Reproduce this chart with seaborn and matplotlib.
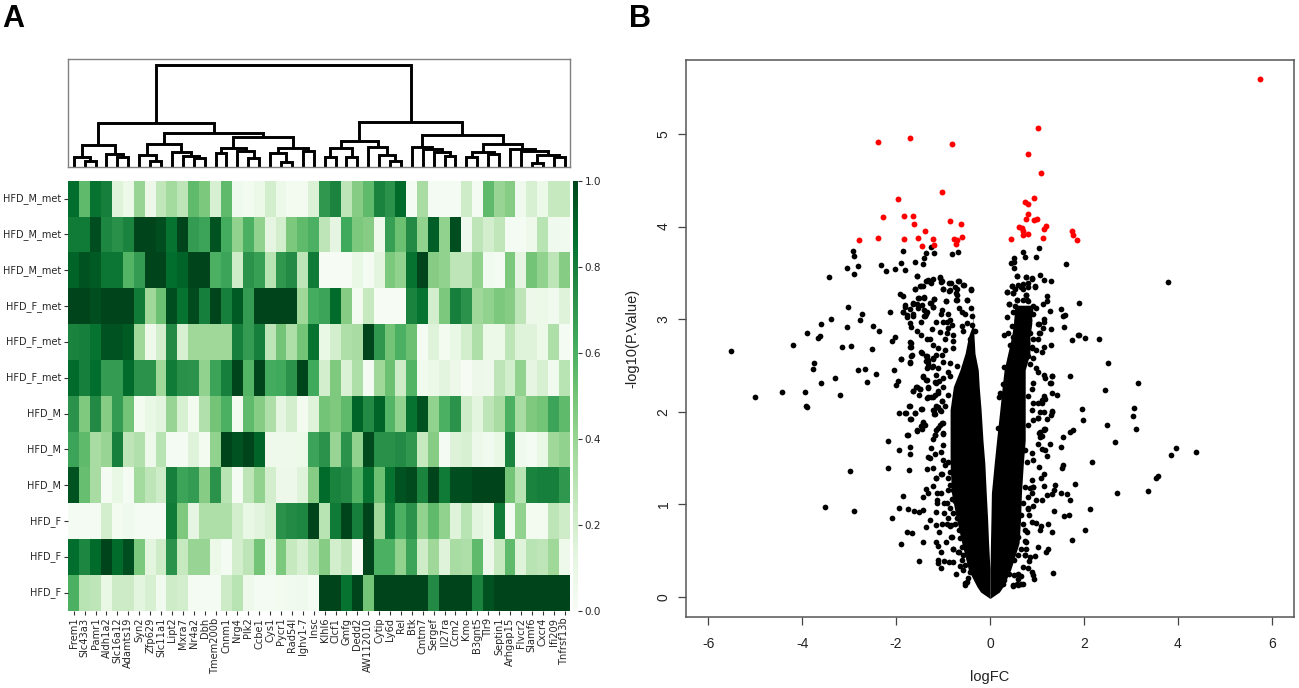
import numpy as np
import pandas as pd
import matplotlib
matplotlib.use("Agg")
import matplotlib.pyplot as plt
import seaborn as sns

genes = ["Frem1","Slc43a3","Pamr1","Aldh1a2","Slc16a12","Adamts19","Syn2","Zfp629","Slc11a1","Lipt2","Mxra7","Nr4a2",
         "Dbh","Tmem200b","Cnnm1","Nrg4","Plk2","Ccbe1","Cys1","Pycr1","Rad54l","Ighv1-7","Insc","Klhl6","Clcf1","Gmfg",
         "Dedd2","AW112010","Cytip","Ly6d","Rel","Btk","Cmtm7","Sergef","Il27ra","Ccm2","Kmo","B3gnt5","Tlr9","Septin1",
         "Arhgap15","Flvcr2","Slamf6","Cxcr4","Ifi209","Tnfrsf13b"]
samples = ["HFD_M_met"]*3 + ["HFD_F_met"]*3 + ["HFD_M"]*3 + ["HFD_F"]*3

row0 = [.87,.55,.85,.8,.15,.08,.4,.07,.27,.37,.28,.55,.48,.18,.55,.05,.03,.08,.2,.08,.03,.03,.17,.7,.78,.28,.45,.55,.78,.72,.88,.02,.35,.02,.02,.02,.22,.02,.55,.4,.45,.05,.18,.08,.25,.25]
row1 = [.82,.82,.97,.77,.73,.78,1,1,.97,.85,1,.68,.65,.95,.62,.42,.6,.42,.12,.2,.48,.55,.6,.28,.12,.63,.48,.45,.06,.67,.52,.75,.42,.92,.42,.97,.05,.28,.2,.27,.02,.02,.06,.3,.05,.04]
row2 = [.9,.95,.93,.83,.83,.58,.68,1,1,.87,.9,1,1,.6,.65,.22,.72,.67,.3,.7,.75,.28,.82,.01,.01,.01,.1,.02,.13,.48,.42,.85,1,.45,.42,.28,.28,.42,.04,.02,.48,.12,.5,.42,.28,.45]
row3 = [1,1,.97,1,1,1,.82,.38,.52,.97,.85,.98,.8,1,.8,.93,.68,1,1,1,1,.38,.62,.65,.88,.45,.03,.25,.01,.01,.01,.78,.85,.2,.48,.8,.72,.38,.42,.48,.45,.28,.07,.08,.04,.15]
row4 = [.78,.8,.85,.95,.95,.93,.38,.06,.2,.75,.18,.38,.38,.38,.38,.8,.68,.8,.28,.5,.33,.5,.85,.1,.2,.33,.35,1,.7,.5,.6,.52,.02,.15,.03,.1,.2,.33,.08,.08,.28,.15,.15,.08,.33,.02]
row5 = [.88,.8,.87,.68,.68,.88,.72,.72,.38,.82,.73,.72,.42,.65,.8,1,.58,1,.62,.63,.72,1,.63,.2,.47,.17,.33,.02,.38,.52,.22,.58,.04,.08,.13,.07,.01,.07,.06,.28,.2,.42,.12,.18,.04,.3]
row6 = [.72,.47,.75,.45,.68,.5,.03,.1,.13,.4,.18,.03,.32,.5,.6,.03,.55,.45,.33,.12,.2,.03,.15,.5,.47,.55,.9,.75,.9,.58,.42,.85,.95,.42,.6,.72,.22,.13,.28,.35,.6,.35,.47,.5,.65,.55]
row7 = [.65,.55,.35,.4,.8,.28,.32,.06,.3,.02,.02,.15,.03,.42,1,.95,1,.9,.06,.06,.06,.08,.65,.72,.4,.72,.42,.98,.73,.73,.75,.7,.25,.45,.02,.16,.18,.07,.04,.1,.78,.05,.02,.1,.38,.42]
row8 = [.95,.53,.35,.02,.1,.02,.37,.28,.22,.8,.65,.68,.45,.72,.3,.02,.28,.42,.2,.07,.07,.15,.45,.88,.78,.75,.58,.85,.52,.85,.95,.98,.78,1,.82,.97,.97,1,1,1,.5,.3,.78,.8,.8,.7]
row9 = [.02,.02,.02,.2,.03,.05,.02,.02,.02,.82,.47,.12,.33,.33,.33,.2,.1,.14,.18,.72,.75,.77,1,.3,.82,1,.8,1,.38,.82,.6,.72,.42,.55,.42,.15,.3,.13,.08,.82,.02,.42,.03,.03,.28,.22]
row10 = [.87,.77,.88,1,.88,.97,.48,.13,.22,.72,.25,.4,.4,.08,.02,.2,.28,.5,.1,.48,.25,.18,.3,.45,.2,.27,.01,1,.6,.6,.42,.65,.22,.38,.15,.35,.33,.55,.07,.25,.55,.15,.3,.28,.38,.06]
row11 = [.6,.3,.28,.1,.23,.23,.13,.18,.04,.22,.2,.02,.02,.02,.23,.3,.06,.02,.02,.03,.04,.05,.02,1,1,.85,1,.5,1,1,1,1,1,.75,1,1,1,.78,.95,1,1,1,1,1,1,1]
rows = [row0,row1,row2,row3,row4,row5,row6,row7,row8,row9,row10,row11]

# dendrogram: (height, left, right); integers are column numbers
g_a = (0.66, (0.32, 0, (0.19, 1, 2)), (0.39, 3, (0.30, 4, 5)))
g_b = (0.69, (0.36, 6, (0.19, 7, 8)), (0.47, 9, (0.35, 10, (0.27, 11, 12))))
g_c = (0.57, (0.44, 13, 14), (0.49, 15, (0.29, 16, 17)))
g_d = (0.57, (0.42, 18, (0.17, 19, 20)), (0.49, 21, 22))
g_e = (0.80, (0.57, (0.30, 23, 24), (0.30, 25, 26)), (0.60, 27, (0.37, 28, (0.19, 29, 30))))
g_f = (0.60, 31, (0.55, 32, (0.47, 33, (0.35, 34, 35))))
g_g = (0.47, (0.30, 36, 37), (0.40, 38, 39))
g_h = (0.55, 40, (0.49, 41, (0.37, (0.14, 42, 43), (0.30, 44, 45))))
tree = (3.08, (1.33, g_a, (1.04, g_b, (0.90, g_c, g_d))),
               (1.37, g_e, (0.97, g_f, (0.69, g_g, g_h))))
dendro_top = 3.24

red_points = [(-2.38,4.91),(-1.71,4.96),(-.80,4.89),(-1.02,4.37),(-1.95,4.30),(-2.28,4.10),(-1.84,4.11),(-1.63,4.11),(-1.62,4.03),
 (-.85,4.06),(-.61,4.03),(-1.38,3.95),(-2.78,3.85),(-2.39,3.88),(-1.83,3.87),(-1.53,3.88),(-1.21,3.87),(-1.45,3.79),(-1.19,3.80),
 (-.77,3.87),(-.71,3.85),(-.72,3.81),(-.59,3.89),(5.75,5.59),(1.02,5.06),(.80,4.78),(1.09,4.58),(.94,4.31),(.74,4.26),(.80,4.24),
 (.81,4.14),(.77,4.08),(.93,4.07),(1.00,4.08),(.62,3.99),(.69,3.98),(1.20,4.01),(1.15,3.97),(.70,3.95),(.71,3.91),(.81,3.92),
 (1.12,3.88),(.45,3.87),(1.75,3.95),(1.77,3.91),(1.85,3.86)]

upper_left = [(-2.91,3.74),(-2.89,3.68),(-2.82,3.57),(-3.04,3.55),(-2.89,3.49),(-3.43,3.46),(-2.33,3.58),(-2.21,3.52),(-2.02,3.54),
 (-1.90,3.61),(-1.80,3.53),(-1.85,3.74),(-1.60,3.62),(-1.41,3.66),(-1.42,3.59),(-1.37,3.71),(-1.26,3.78),(-1.20,3.71),(-.82,3.70),
 (-.68,3.73),(-1.56,3.47),(-1.06,3.44),(-1.04,3.40),(-1.37,3.41),(-1.31,3.42),(-1.25,3.39),(-1.48,3.36),(-1.60,3.33),(-1.00,3.33),
 (-.87,3.30),(-.83,3.39),(-.68,3.41),(-.56,3.37),(-.41,3.31),(-.74,3.35),(-.72,3.28),(-1.92,3.27),(-1.86,3.25),(-1.51,3.23),(-1.40,3.23),
 (-1.19,3.22),(-1.28,3.17),(-.94,3.20),(-.48,3.21),(-1.81,3.13),(-1.63,3.16),(-1.45,3.15),(-1.21,3.13),(-.71,3.21),(-1.85,3.08),
 (-1.76,3.04),(-1.63,3.06),(-1.35,3.08),(-1.38,3.03),(-2.12,3.08),(-3.02,3.13),(-2.73,3.06),(-2.76,2.99),(-3.39,3.00),(-3.60,2.95),
 (-3.05,2.91),(-2.50,2.93),(-2.36,2.87),(-3.89,2.85),(-3.66,2.80),(-3.63,2.82),(-2.03,2.81),(-2.09,2.76),(-4.19,2.72),(-5.52,2.66),
 (-1.69,2.74),(-1.69,2.70),(-3.15,2.70),(-2.51,2.68),(-2.95,2.71)]

lower_left = [(-3.75,2.52),(-3.76,2.46),(-2.81,2.45),(-2.66,2.46),(-2.43,2.41),(-2.61,2.32),(-3.30,2.36),(-3.61,2.31),(-3.94,2.21),
 (-4.42,2.21),(-5.00,2.16),(-3.19,2.18),(-3.90,2.05),(-3.92,2.06),(-2.04,2.45),(-1.90,2.57),(-1.69,2.60),(-1.71,2.53),(-1.45,2.63),
 (-1.36,2.60),(-1.37,2.55),(-1.31,2.53),(-1.22,2.57),(-1.14,2.61),(-1.34,2.47),(-1.23,2.48),(-1.95,2.33),(-2.00,2.29),(-1.42,2.37),
 (-1.36,2.34),(-1.17,2.32),(-1.09,2.33),(-1.31,2.26),(-1.57,2.27),(-1.50,2.24),(-1.51,2.18),(-1.63,2.22),(-1.34,2.15),(-1.26,2.16),
 (-1.17,2.18),(-1.10,2.22),(-1.03,2.11),(-1.10,2.05),(-1.19,2.02),(-1.04,2.01),(-1.19,1.97),(-1.72,2.06),(-1.93,1.99),(-1.79,1.98),
 (-1.60,1.98),(-1.45,2.03),(-1.69,1.92),(-1.42,1.89),(-1.38,1.86),(-1.45,1.81),(-1.55,1.79),(-1.75,1.75),(-1.00,1.88),(-1.07,1.85),
 (-1.14,1.80),(-1.17,1.75),(-1.21,1.70),(-1.00,1.76),(-2.17,1.68),(-1.94,1.59),(-1.71,1.62),(-1.71,1.54),(-1.26,1.61),(-1.00,1.64),
 (-1.05,1.56),(-1.18,1.54),(-1.32,1.51),(-1.27,1.50),(-2.17,1.39),(-1.73,1.37),(-2.98,1.36),(-1.34,1.38),(-1.21,1.39),(-1.03,1.33),
 (-1.14,1.28),(-1.22,1.20),(-1.37,1.16),(-1.31,1.12),(-1.43,1.08),(-1.86,1.09),(-1.12,1.12),(-1.04,1.12),(-1.12,1.05),(-1.12,1.01),
 (-.97,1.01),(-3.51,.97),(-2.90,.93),(-1.93,.96),(-1.75,.95),(-1.61,.93),(-1.52,.91),(-1.42,.94),(-2.09,.85),(-1.27,.83),(-1.14,.92),
 (-.98,.90),(-1.36,.75),(-1.14,.77),(-1.02,.79),(-.92,.78),(-.84,.77),(-1.08,.70),(-1.77,.70),(-1.67,.69),(-1.90,.57),(-1.43,.59),
 (-1.14,.59),(-1.11,.55),(-.94,.59),(-.83,.64),(-.78,.51),(-1.05,.48),(-.68,.48),(-1.51,.39),(-1.11,.40),(-1.10,.36),(-.98,.39),
 (-.88,.38),(-.78,.38),(-1.05,.31),(-.60,.40),(-.72,.24),(-.53,.13),(-.50,.16)]

near_core_left = [(-1.56,3.47),(-1.07,3.45),(-.67,3.41),(-.87,3.39),(-.57,3.37),(-1.03,3.41),(-1.21,3.43),(-1.31,3.41),(-1.42,3.36),(-1.49,3.36),
 (-1.60,3.33),(-1.00,3.32),(-.85,3.31),(-.71,3.32),(-.41,3.32),(-.71,3.26),(-.72,3.21),(-.50,3.21),(-.94,3.20),(-1.19,3.22),(-1.26,3.17),
 (-1.41,3.24),(-1.53,3.23),(-1.63,3.17),(-1.56,3.16),(-1.81,3.15),(-1.86,3.08),(-1.70,3.11),(-1.53,3.12),(-1.41,3.10),(-1.36,3.06),(-1.21,3.13),
 (-1.03,3.10),(-1.05,3.06),(-.89,3.06),(-.67,3.12),(-.60,3.08),(-.41,3.12),(-.53,3.05),(-.39,3.03),(-1.77,3.02),(-1.65,3.03),(-1.48,2.97),
 (-1.41,3.03),(-1.14,2.97),(-1.00,2.97),(-.92,2.97),(-.85,2.99),(-.82,2.94),(-.89,2.90),(-.60,2.92),(-.50,2.96),(-.39,2.94),(-1.70,2.96),
 (-1.68,2.91),(-1.56,2.87),(-1.46,2.83),(-1.35,2.79),(-1.28,2.78),(-1.24,2.89),(-1.06,2.86),(-.92,2.85),(-.96,2.78),(-.78,2.83),(-.57,2.87),
 (-.32,2.87),(-.43,2.78),(-.78,2.76),(-1.21,2.72),(-1.10,2.69),(-.96,2.67),(-.78,2.69),(-1.70,2.75),(-1.70,2.70),(-1.46,2.64),(-1.67,2.61),
 (-1.35,2.60),(-1.31,2.56),(-1.89,2.57),(-1.70,2.54),(-1.21,2.58),(-1.03,2.61),(-1.31,2.49),(-1.21,2.49),(-1.00,2.54),(-.85,2.52),(-1.10,2.47),
 (-.89,2.43),(-.71,2.49),(-1.42,2.38),(-1.35,2.34),(-1.14,2.40),(-1.00,2.36),(-.85,2.38),(-1.56,2.27),(-1.63,2.22),(-1.49,2.24),(-1.31,2.27),
 (-1.14,2.31),(-1.00,2.27),(-1.31,2.16),(-1.21,2.16),(-1.10,2.20),(-1.03,2.11),(-1.15,2.06),(-.89,2.18),(-1.70,2.06),(-1.46,2.03),(-1.81,1.98),
 (-1.60,1.98),(-1.70,1.92),(-1.21,2.02),(-1.06,2.02),(-.96,2.06),(-1.17,1.97),(-1.42,1.88),(-1.46,1.84),(-1.56,1.80),(-1.76,1.75),(-1.03,1.88),
 (-1.10,1.82),(-1.17,1.75),(-1.00,1.77),(-1.00,1.48),(-.89,1.46),(-.96,1.42),(-.85,1.35),(-1.05,1.33),(-.89,1.28),(-1.14,1.28),(-.85,1.21),
 (-.78,1.15),(-.89,1.15),(-.82,1.06),(-.92,1.01),(-.75,1.03),(-.85,.96),(-.78,.90),(-.89,.85),(-.71,.85),(-.75,.79),(-.85,.76),(-.67,.72),
 (-.82,.65),(-.64,.63),(-.60,.54),(-.78,.52),(-.67,.48),(-.57,.45),(-.53,.34),(-.64,.33),(-.57,.29),(-.43,.27),(-.46,.20),(-.53,.15)]

upper_right = [(1.04,3.77),(.71,3.72),(.75,3.67),(.97,3.67),(.52,3.66),(.45,3.61),(.52,3.62),(.52,3.55),(1.62,3.60),(3.79,3.40),(.58,3.47),
 (.77,3.46),(.89,3.44),(1.06,3.48),(1.16,3.42),(1.29,3.41),(.46,3.36),(.67,3.35),(.82,3.39),(.96,3.35),(.36,3.29),(.48,3.28),(.76,3.26),
 (1.22,3.25),(1.21,3.19),(1.12,3.16),(1.90,3.17),(.57,3.21),(.40,3.16),(.78,3.21),(1.28,3.09),(1.51,3.11),(1.60,3.04),(1.56,3.03),
 (.36,3.02),(1.16,3.00),(1.04,2.95),(1.29,2.89),(1.57,2.91),(.30,2.83),(1.06,2.85),(1.90,2.83),(2.02,2.80),(2.32,2.79),(1.75,2.77),
 (1.29,2.72),(1.14,2.70),(.89,2.70)]

lower_right = [(1.10,2.64),(2.51,2.53),(1.70,2.38),(1.32,2.38),(1.29,2.31),(1.17,2.36),(3.15,2.31),(2.46,2.23),(1.33,2.20),(1.43,2.18),
 (1.15,2.15),(1.10,2.09),(1.17,2.14),(1.97,2.03),(1.99,1.91),(3.07,2.04),(3.05,1.95),(3.12,1.81),(2.49,1.85),(1.33,2.01),(1.29,1.96),
 (1.21,1.92),(1.14,2.00),(1.03,1.93),(1.77,1.80),(1.70,1.78),(1.55,1.73),(1.51,1.62),(1.28,1.65),(1.15,1.81),(1.06,1.78),(1.10,1.74),
 (2.66,1.67),(3.96,1.61),(3.86,1.53),(4.39,1.56),(1.03,1.65),(1.10,1.60),(1.21,1.52),(1.17,1.59),(.89,1.55),(.92,1.48),(2.17,1.45),
 (1.55,1.42),(1.53,1.39),(1.05,1.40),(3.57,1.30),(3.54,1.28),(1.14,1.33),(1.08,1.28),(1.82,1.22),(1.38,1.21),(1.14,1.20),(.92,1.19),
 (.89,1.12),(1.37,1.15),(3.37,1.14),(2.70,1.12),(1.22,1.10),(1.33,1.11),(1.51,1.12),(1.63,1.11),(1.70,1.05),(1.10,1.04),(.99,1.05),
 (2.14,.95),(1.36,.93),(.92,.98),(.82,.95),(.84,.88),(1.58,.87),(1.68,.88),(.90,.81),(.99,.80),(1.23,.79),(1.08,.76),(1.06,.72),
 (1.31,.70),(.78,.70),(2.02,.72),(1.74,.61),(.77,.59),(1.02,.54),(1.24,.51),(1.19,.48),(.77,.51),(.96,.44),(.85,.43),(.75,.45),(.84,.39),
 (.71,.32),(.82,.31),(.89,.27),(.92,.23),(.94,.19),(1.34,.26),(.51,.23),(.60,.25),(.67,.22),(.60,.19),(.70,.14),(.60,.13),(.48,.12)]

near_core_right = [(.57,3.47),(.77,3.45),(.89,3.43),(.46,3.36),(.60,3.37),(.71,3.38),(.82,3.35),(.96,3.36),(.53,3.33),(.71,3.32),(.37,3.29),(.48,3.28),
 (.77,3.26),(.57,3.21),(.71,3.21),(.82,3.20),(.41,3.16),(.53,3.14),(.92,3.14),(.85,3.10),(.99,3.12),(.50,3.08),(.64,3.05),(.78,3.05),(.92,3.06),
 (.57,2.99),(.71,2.99),(.84,2.99),(1.15,2.97),(1.03,2.95),(1.12,2.90),(.46,2.92),(.64,2.90),(.39,2.85),(.50,2.81),(.71,2.83),(.85,2.85),(1.05,2.85),
 (.92,2.78),(1.03,2.79),(1.88,2.83),(.78,2.74),(.89,2.69),(.99,2.67),(.43,2.72),(.30,2.48),(.82,2.60),(.92,2.58),(.85,2.51),(.99,2.47),(1.03,2.43),
 (1.14,2.40),(1.31,2.38),(1.28,2.31),(.27,2.30),(.92,2.31),(.89,2.24),(.21,2.20),(.82,2.17),(1.14,2.17),(1.10,2.13),(1.03,2.09),(.92,2.09),(.20,2.16),
 (.89,2.02),(1.07,2.00),(1.31,2.00),(1.03,1.93),(.92,1.91),(1.14,1.80),(1.05,1.77),(1.17,1.81),(.82,1.86),(.18,1.82),(1.07,1.73),(.75,1.59),(.78,1.46),
 (.89,1.26),(.75,1.19),(.85,1.17),(.92,1.19),(.82,1.08),(.71,1.01),(.82,.96),(.67,.88),(.71,.79),(.75,.72),(.60,.65),(.75,.60),(.65,.52),(.60,.45),
 (.75,.45),(.51,.40),(.40,.25),(.30,.18),(.28,.14),(.48,.13),(.58,.14),(.67,.14)]

# outline of the solid core
core_y      = [-.02, .05, .11, .29, .58, .83, 1.12, 1.44, 1.69, 2.02, 2.27, 2.45, 2.63, 2.81, 2.95, 3.15]
left_outer  = [0,-.20,-.28,-.46,-.60,-.71,-.82,-.85,-.85,-.85,-.78,-.64,-.53,-.46,-.36,-.36]
left_inner  = [0,0,0,0,-.03,-.05,-.08,-.11,-.15,-.19,-.23,-.25,-.32,-.34,-.35,-.36]
right_inner = [0,0,0,0,.01,.02,.03,.09,.14,.21,.26,.30,.38,.46,.50,.53]
right_outer = [0,.20,.28,.44,.62,.65,.67,.71,.75,.75,.75,.75,.85,.85,.89,.89]

W, H = 1299, 688
plt.rcParams["font.family"] = ["DejaVu Sans"]
plt.rcParams["axes.unicode_minus"] = False
fig = plt.figure(figsize=(W/100, H/100), dpi=100, facecolor="white")

def rect(l, t, r, b):
    return [l/W, 1-b/H, (r-l)/W, (b-t)/H]

# ---------- panel A ----------
ax_h = fig.add_axes(rect(68.3, 180.7, 570, 610.7))
ax_c = fig.add_axes(rect(572.5, 180.7, 577.5, 610.7))
frame = pd.DataFrame(rows, columns=genes)
sns.heatmap(frame, ax=ax_h, cbar_ax=ax_c, cmap="Greens", vmin=0, vmax=1,
            xticklabels=genes, yticklabels=samples, linewidths=0, rasterized=True)
ax_h.set_yticklabels(samples, rotation=0, fontsize=7, color="#262626")
ax_h.set_xticklabels(genes, rotation=90, fontsize=7.1, color="#262626")
ax_h.tick_params(length=3, width=0.8, pad=2, color="#333333")
ax_c.tick_params(length=3, width=0.8, labelsize=7.5, pad=2, labelcolor="#262626", color="#333333")
ax_c.set_yticks([0, .2, .4, .6, .8, 1.0])
ax_c.set_yticklabels(["0.0", "0.2", "0.4", "0.6", "0.8", "1.0"])

ax_d = fig.add_axes(rect(68.3, 59.3, 570, 167.3))
def draw(node):
    if isinstance(node, int):
        return node + .5, 0.0
    h, a, b = node
    xa, ya = draw(a)
    xb, yb = draw(b)
    ax_d.plot([xa, xa, xb, xb], [ya, h, h, yb], color="black", lw=2.1,
              solid_joinstyle="miter", solid_capstyle="butt", clip_on=False)
    return (xa + xb) / 2, h
draw(tree)
ax_d.set_xlim(0, len(genes))
ax_d.set_ylim(0, dendro_top)
ax_d.set_xticks([]); ax_d.set_yticks([])
for s in ax_d.spines.values():
    s.set_color("#808080"); s.set_linewidth(1.0)

# ---------- panel B ----------
ax_v = fig.add_axes(rect(686, 60, 1294, 617.3))
ax_v.fill_betweenx(core_y, left_outer, left_inner, color="black", lw=0)
ax_v.fill_betweenx(core_y, right_inner, right_outer, color="black", lw=0)
black = pd.DataFrame(upper_left + lower_left + near_core_left + upper_right + lower_right + near_core_right,
                     columns=["logFC", "p"])
red = pd.DataFrame(red_points, columns=["logFC", "p"])
sns.scatterplot(data=black, x="logFC", y="p", ax=ax_v, color="black", s=17, linewidth=0)
sns.scatterplot(data=red, x="logFC", y="p", ax=ax_v, color="#ff0000", s=18, linewidth=0)
ax_v.set_xlim(-6.475, 6.475)
ax_v.set_ylim(-0.223, 5.80)
ax_v.set_xticks([-6, -4, -2, 0, 2, 4, 6])
ax_v.set_yticks([0, 1, 2, 3, 4, 5])
ax_v.tick_params(length=6, width=0.9, color="#444444", labelsize=10, labelcolor="#222222")
ax_v.tick_params(axis="x", pad=8)
ax_v.tick_params(axis="y", pad=5)
for t in ax_v.get_xticklabels() + ax_v.get_yticklabels():
    t.set_family("Liberation Sans")
for t in ax_v.get_yticklabels():
    t.set_rotation(90); t.set_va("center")
ax_v.set_xlabel("logFC", family="Liberation Sans", fontsize=10.5, labelpad=14, color="#222222")
ax_v.set_ylabel("-log10(P.Value)", family="Liberation Sans", fontsize=10.5, labelpad=12.4, color="#222222")
for s in ax_v.spines.values():
    s.set_color("#555555"); s.set_linewidth(1.1)

fig.text(2/W, 1-27/H, "A", family="Liberation Sans", fontweight="bold", fontsize=22, color="black")
fig.text(629/W, 1-27/H, "B", family="Liberation Sans", fontweight="bold", fontsize=22, color="black")
fig.savefig("out.png", dpi=100, facecolor="white")
